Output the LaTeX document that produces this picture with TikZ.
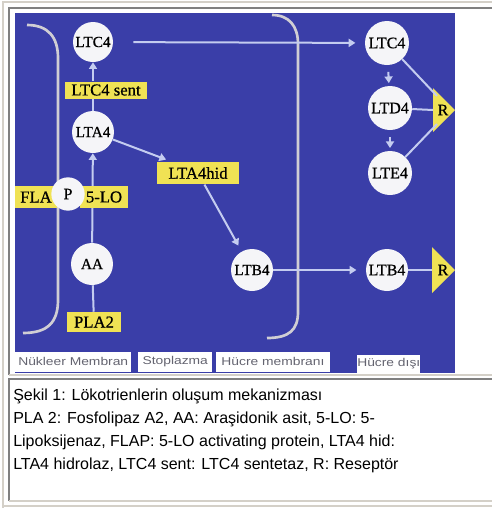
\documentclass[tikz,border=0pt]{standalone}
\usepackage{fontspec}
\setmainfont{Liberation Serif}
\setsansfont{Liberation Sans}
\newfontfamily\molfont[FakeBold=0.6]{Liberation Serif}
\newfontfamily\zonefont[FakeStretch=1.22]{Liberation Sans}
\usetikzlibrary{arrows.meta}
\definecolor{plate}{RGB}{58,62,168}
\definecolor{enzyel}{RGB}{240,226,84}
\definecolor{molwhite}{RGB}{245,245,248}
\definecolor{flowline}{RGB}{196,204,240}
\definecolor{membline}{RGB}{208,206,212}
\definecolor{zonetext}{RGB}{100,100,112}
\definecolor{framegray}{RGB}{128,128,128}
\definecolor{framelight}{RGB}{212,208,200}
\begin{document}
\begin{tikzpicture}[x=0.75pt,y=-0.75pt,
  mol/.style={circle,fill=molwhite,inner sep=0pt,minimum size=31.5pt,font=\molfont\fontsize{11.5}{13}\selectfont},
  molr/.style={mol,minimum size=33pt,font=\molfont\fontsize{12}{14}\selectfont},
  enz/.style={fill=enzyel,inner sep=0pt,minimum height=17pt,font=\molfont\fontsize{12.5}{14}\selectfont},
  flow/.style={draw=flowline,line width=1.5pt,-{Triangle[length=5pt,width=6pt]}},
  link/.style={draw=flowline,line width=1.5pt},
  memb/.style={draw=membline,line width=2pt},
  zone/.style={fill=white,text=zonetext,inner sep=0pt,anchor=south west,minimum height=15pt,font=\zonefont\fontsize{8.5}{10}\selectfont}]
  \useasboundingbox (0,0) rectangle (492,508);
  \fill[white] (0,0) rectangle (492,508);
  \draw[framelight,line width=1.5pt] (3,508) -- (3,2) -- (492,2);
  \draw[framelight,line width=1.5pt] (3,506) -- (492,506);
  \draw[framegray,line width=1.5pt] (9,375) -- (9,8) -- (492,8);
  \draw[framelight,line width=1.5pt] (9,375) -- (492,375);
  \draw[framegray,line width=1.5pt] (9,501) -- (9,379) -- (492,379);
  \draw[framelight,line width=1.5pt] (9,501) -- (492,501);
  \fill[plate] (15,13) rectangle (455,373);
  \draw[memb] (27,25) .. controls (48,25) and (58,37) .. (58,58) -- (58,300) .. controls (58,322) and (48,333) .. (23,333);
  \draw[memb] (272,15) .. controls (289,15) and (298,26) .. (298,44) -- (298,312) .. controls (298,330) and (289,338) .. (267,338);

  \node[mol,minimum size=30pt] (ltcL) at (93,42) {LTC4};
  \node[mol] (ltaL) at (93,132) {LTA4};
  \node[mol] (aa) at (92,264) {AA};
  \node[mol] (ltbL) at (252,270) {LTB4};
  \node[molr] (ltcR) at (387,43) {LTC4};
  \node[molr] (ltdR) at (390,108) {LTD4};
  \node[molr] (lteR) at (390,173) {LTE4};
  \node[molr,minimum size=31.5pt] (ltbR) at (387,270) {LTB4};
  \node[enz,minimum width=61.5pt,minimum height=12.75pt] (ltcsent) at (106,90) {LTC4 sent};
  \node[enz,minimum width=62pt] (ltahid) at (198,173) {LTA4hid};
  \node[enz,minimum width=41pt,minimum height=15pt] (pla2) at (94,322) {PLA2};

  \draw[flow] (aa) -- (ltaL);
  \draw[link] (aa) -- (pla2);
  \draw[link] (ltaL) -- (ltaL |- ltcsent.south);
  \draw[flow] (ltcL |- ltcsent.north) -- (ltcL);
  \draw[flow,shorten >=4pt] (ltaL) -- ([xshift=11pt]ltahid.north west);
  \draw[flow,shorten >=5pt] (ltahid) -- (ltbL);
  \draw[flow,shorten <=15pt,shorten >=7pt] (ltcL) -- (ltcR);
  \draw[flow,shorten <=5pt,shorten >=2pt] (ltcR) -- (ltdR);
  \draw[flow,shorten <=5pt,shorten >=2pt] (ltdR) -- (lteR);
  \draw[flow,shorten >=7pt] (ltbL) -- (ltbR);

  \node[enz,minimum width=31.5pt] (fla) at (36,197) {FLA};
  \node[enz,minimum width=36pt] (flo) at (104,197) {5-LO};
  \node[mol,minimum size=25pt,font=\molfont\fontsize{12}{14}\selectfont] (flp) at (68,194) {P};

  \coordinate (rtop) at (433,110);
  \coordinate (rtopn) at (437,96);
  \coordinate (rtops) at (437,124);
  \coordinate (rbot) at (432,270);
  \fill[enzyel] (rtop) -- ++(0,-22) -- ++(22,22) -- ++(-22,22) -- cycle;
  \fill[enzyel] (rbot) -- ++(0,-23) -- ++(23,23) -- ++(-23,23) -- cycle;
  \node[font=\molfont\fontsize{12}{14}\selectfont] (rtoplab) at (443,110) {R};
  \node[font=\molfont\fontsize{12}{14}\selectfont] (rbotlab) at (443,270) {R};
  \draw[link] (ltcR) -- (rtopn);
  \draw[link] (ltdR) -- (rtop);
  \draw[link] (lteR) -- (rtops);
  \draw[link] (ltbR) -- (rbot);

  \node[zone,minimum width=87pt] (znuc) at (15,372) {Nükleer Membran};
  \node[zone,minimum width=55.5pt] (zsto) at (138,372) {Stoplazma};
  \node[zone,minimum width=85pt] (zhm) at (216,372) {Hücre membranı};
  \node[zone,minimum width=44pt,minimum height=13.5pt] (zhd) at (357,373) {Hücre dışı};

  \node[anchor=north west,align=left,inner sep=0pt,font=\sffamily\fontsize{12}{17.25}\selectfont] (caption) at (13,389)
    {Şekil 1: Lökotrienlerin oluşum mekanizması\\
     PLA 2: Fosfolipaz A2, AA: Araşidonik asit, 5-LO: 5-\\
     Lipoksijenaz, FLAP: 5-LO activating protein, LTA4 hid:\\
     LTA4 hidrolaz, LTC4 sent: LTC4 sentetaz, R: Reseptör};
\end{tikzpicture}
\end{document}
